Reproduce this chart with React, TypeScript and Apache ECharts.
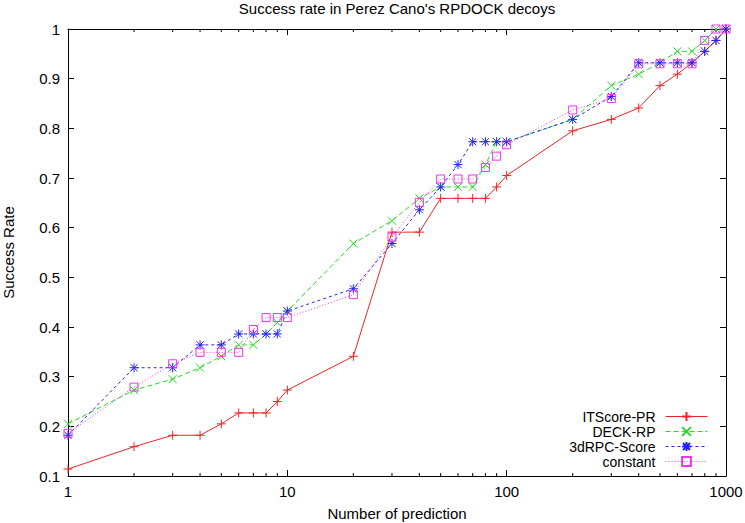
import React, { useEffect, useRef } from 'react';
import * as echarts from 'echarts';

const titleText = "Success rate in Perez Cano's RPDOCK decoys";
const xAxisName = 'Number of prediction';
const yAxisName = 'Success Rate';

const xValues = [1, 2, 3, 4, 5, 6, 7, 8, 9, 10, 20, 30, 40, 50, 60, 70, 80, 90, 100, 200, 300, 400, 500, 600, 700, 800, 900, 1000];

const itscorePR = [0.114, 0.159, 0.182, 0.182, 0.205, 0.227, 0.227, 0.227, 0.25, 0.273, 0.341, 0.591, 0.591, 0.659, 0.659, 0.659, 0.659, 0.682, 0.705, 0.795, 0.818, 0.841, 0.886, 0.909, 0.932, 0.955, 0.977, 1.0];
const deckRP = [0.205, 0.273, 0.295, 0.318, 0.341, 0.364, 0.364, 0.386, 0.409, 0.432, 0.568, 0.614, 0.659, 0.682, 0.682, 0.682, 0.727, 0.773, 0.773, 0.818, 0.886, 0.909, 0.932, 0.955, 0.955, 0.977, 1.0, 1.0];
const rpcScore = [0.182, 0.318, 0.318, 0.364, 0.364, 0.386, 0.386, 0.386, 0.386, 0.432, 0.477, 0.568, 0.636, 0.682, 0.727, 0.773, 0.773, 0.773, 0.773, 0.818, 0.864, 0.932, 0.932, 0.932, 0.932, 0.955, 0.977, 1.0];
const constantRate = [0.186, 0.279, 0.326, 0.349, 0.349, 0.349, 0.395, 0.419, 0.419, 0.419, 0.465, 0.581, 0.651, 0.698, 0.698, 0.698, 0.721, 0.744, 0.767, 0.837, 0.86, 0.93, 0.93, 0.93, 0.93, 0.977, 1.0, 1.0];

const seriesNames = ['ITScore-PR', 'DECK-RP', '3dRPC-Score', 'constant'];
const seriesValues = [itscorePR, deckRP, rpcScore, constantRate];

const xMinorTicks = [2, 3, 4, 5, 6, 7, 8, 9, 20, 30, 40, 50, 60, 70, 80, 90, 200, 300, 400, 500, 600, 700, 800, 900];
const yMin = 0.1;
const yMax = 1;

const FONT = '"Liberation Sans", Arial, Helvetica, sans-serif';

export default function App() {
  const ref = useRef<HTMLDivElement>(null);

  useEffect(() => {
    document.body.style.margin = '0';
    const chart = echarts.init(ref.current!, null, { renderer: 'svg' });

    const colors = ['#f02424', '#22dd22', '#2424f0', '#ee33ee'];
    const dashes: any[] = ['solid', [5, 3], [3, 3], [1, 2]];
    const symbols = [
      'path://M5,0L5,10M0,5L10,5',
      'path://M0,0L10,10M10,0L0,10',
      'path://M5,0L5,10M0,5L10,5M1,1L9,9M9,1L1,9',
      'path://M0,0L10,0L10,10L0,10Z',
    ];
    const sizes = [9, 8, 9, 8];

    const baseX = {
      type: 'log' as const,
      logBase: 10,
      min: 1,
      max: 1000,
      interval: 1,
      splitLine: { show: false },
      minorSplitLine: { show: false },
    };
    const baseY = {
      type: 'value' as const,
      min: yMin,
      max: yMax,
      interval: 0.1,
      splitLine: { show: false },
    };
    const black = { color: '#000', width: 1 };

    const option: any = {
      animation: false,
      backgroundColor: '#fff',
      textStyle: { fontFamily: FONT },
      grid: { left: 68, right: 19, top: 29, bottom: 47, containLabel: false, outerBoundsMode: 'none' },
      graphic: [
        {
          type: 'text',
          x: 397,
          y: 8,
          style: {
            text: titleText,
            font: `15px ${FONT}`,
            fill: '#000',
            textAlign: 'center',
            textVerticalAlign: 'middle',
          },
        },
      ],
      xAxis: [
        {
          ...baseX,
          position: 'bottom',
          axisLine: { show: true, lineStyle: black },
          axisTick: { show: true, inside: true, length: 6, lineStyle: black },
          axisLabel: {
            show: true,
            color: '#000',
            fontSize: 15,
            fontFamily: FONT,
            margin: 8,
            formatter: (v: number) => String(Math.round(v)),
          },
          name: xAxisName,
          nameLocation: 'middle',
          nameGap: 30,
          nameTextStyle: { color: '#000', fontSize: 15, fontFamily: FONT },
        },
        {
          ...baseX,
          position: 'top',
          axisLine: { show: true, lineStyle: black },
          axisTick: { show: true, inside: true, length: 6, lineStyle: black },
          axisLabel: { show: false },
        },
      ],
      yAxis: [
        {
          ...baseY,
          position: 'left',
          axisLine: { show: true, lineStyle: black },
          axisTick: { show: true, inside: true, length: 6, lineStyle: black },
          axisLabel: {
            color: '#000',
            fontSize: 15,
            fontFamily: FONT,
            margin: 8,
            formatter: (v: number) => (Math.abs(v - 1) < 1e-9 ? '1' : v.toFixed(1)),
          },
          name: yAxisName,
          nameLocation: 'middle',
          nameGap: 52,
          nameRotate: 90,
          nameTextStyle: { color: '#000', fontSize: 15, fontFamily: FONT },
        },
        {
          ...baseY,
          position: 'right',
          axisLine: { show: true, lineStyle: black },
          axisTick: { show: true, inside: true, length: 6, lineStyle: black },
          axisLabel: { show: false },
        },
      ],
      legend: {
        orient: 'vertical',
        right: 37,
        top: 409,
        padding: 0,
        itemGap: 0,
        itemWidth: 42,
        itemHeight: 11,
        align: 'right',
        selectedMode: false,
        data: seriesNames,
        lineStyle: { width: 1 },
        textStyle: { color: '#000', fontSize: 14, fontFamily: FONT, lineHeight: 15, padding: [0, 5, 0, 0] },
      },
      series: [
        ...seriesNames.map((name, i) => ({
          type: 'line',
          name,
          xAxisIndex: 0,
          yAxisIndex: 0,
          data: xValues.map((x, j) => [x, seriesValues[i][j]]),
          symbol: symbols[i],
          symbolSize: sizes[i],
          showSymbol: true,
          silent: true,
          color: colors[i],
          lineStyle: { color: colors[i], width: 1, type: dashes[i] },
          itemStyle: {
            color: i === 3 ? 'none' : colors[i],
            borderColor: colors[i],
            borderWidth: 1,
          },
        })),
        {
          type: 'custom',
          name: 'minorTicks',
          xAxisIndex: 0,
          yAxisIndex: 0,
          silent: true,
          clip: false,
          data: xMinorTicks.map((v) => [v, yMin]),
          encode: { x: 0, y: 1 },
          renderItem: (params: any, api: any) => {
            const xv = api.value(0);
            const b = api.coord([xv, yMin]);
            const t = api.coord([xv, yMax]);
            const st = { stroke: '#000', lineWidth: 1 };
            return {
              type: 'group',
              children: [
                { type: 'line', shape: { x1: b[0], y1: b[1], x2: b[0], y2: b[1] - 3 }, style: st },
                { type: 'line', shape: { x1: t[0], y1: t[1], x2: t[0], y2: t[1] + 3 }, style: st },
              ],
            };
          },
        },
      ],
    };

    chart.setOption(option);
    return () => chart.dispose();
  }, []);

  return <div ref={ref} style={{ width: 745, height: 523 }} />;
}
